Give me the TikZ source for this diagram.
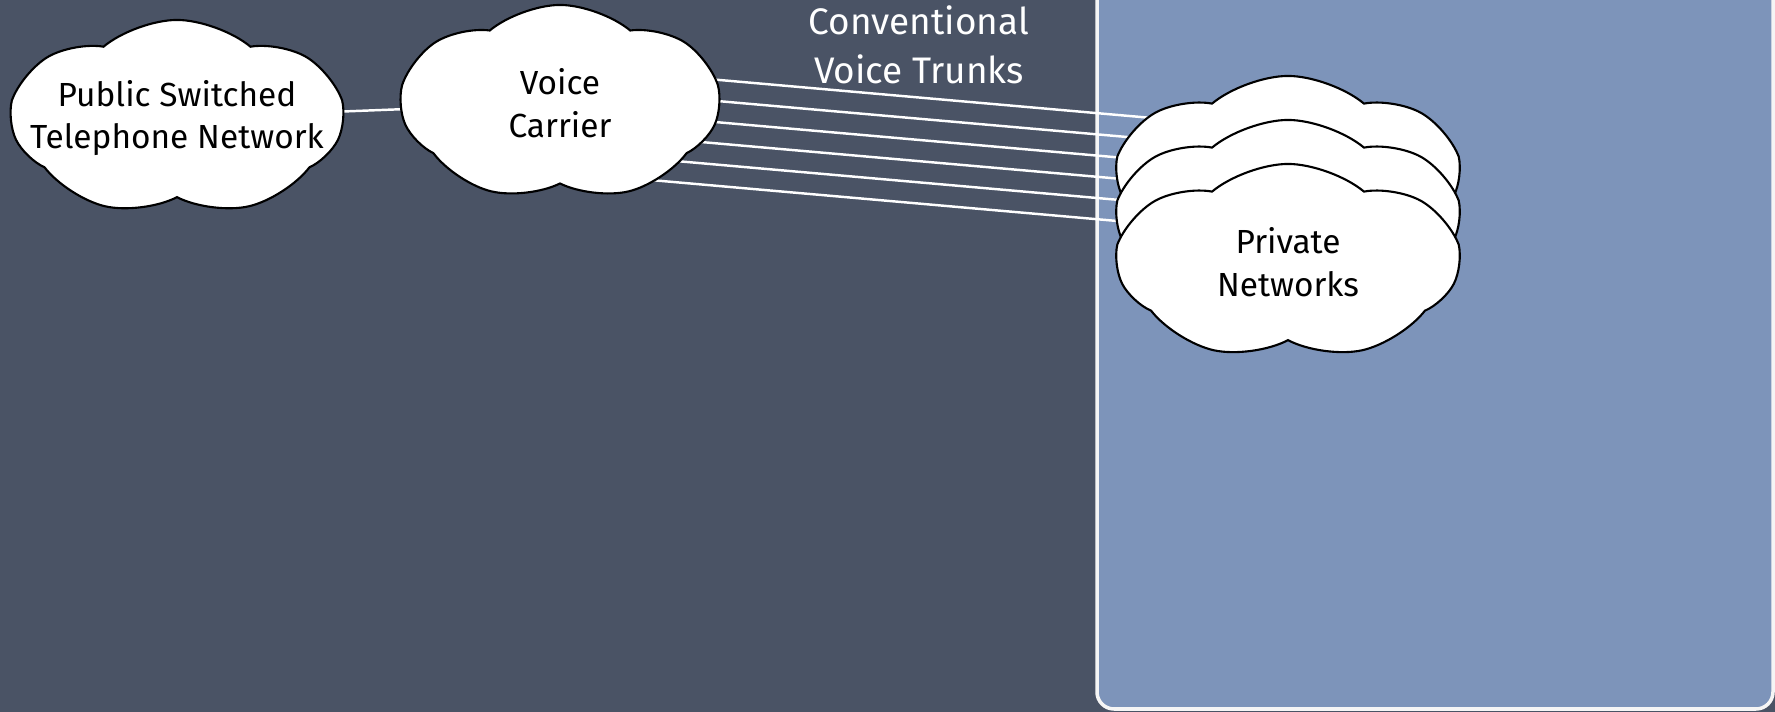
\documentclass[tikz,border=0pt]{standalone}
\usepackage{fontspec}
\setmainfont{Fira Sans}
\usetikzlibrary{shapes.symbols}

\pgfdeclarelayer{board}
\pgfdeclarelayer{wires}
\pgfsetlayers{board,wires,main}

\definecolor{slate}{RGB}{74,83,101}
\definecolor{panelblue}{RGB}{125,148,186}

\tikzset{
	netcloud/.style={cloud, cloud puffs=7, cloud puff arc=80, cloud ignores aspect,
		draw=black, line width=0.6pt, fill=white,
		minimum width=3.3cm, minimum height=1.96cm, inner sep=0pt},
	cloudtext/.style={align=center, text=black, font=\fontsize{9.5}{12.2}\selectfont},
	trunk/.style={draw=white, line width=0.7pt}
}

\begin{document}
\begin{tikzpicture}[x=0.01cm, y=-0.01cm]
		\useasboundingbox (0,0) rectangle (1775,712);
		%% The Board
		\begin{pgfonlayer}{board}
			\fill[slate] (0,0) rectangle (1775,712);
			\filldraw[fill=panelblue, draw=white!92!gray, line width=1pt,
				rounded corners=0.17cm] (1097,-30) rectangle (1773,709);
		\end{pgfonlayer}
		%% The Clouds
		\node[netcloud, label={[cloudtext]center:{Public Switched\\Telephone Network}}]
			(pstn) at (177,118) {};
		\node[netcloud, minimum width=3.17cm, label={[cloudtext]center:{Voice\\Carrier}}]
			(carrier) at (560,103) {};
		\node[netcloud, minimum width=3.4cm] (privC) at (1288,174) {}; % back
		\node[netcloud, minimum width=3.4cm] (privB) at (1288,218) {}; % middle
		\node[netcloud, minimum width=3.4cm, label={[cloudtext]center:{Private\\Networks}}]
			(privA) at (1288,262) {}; % front
		%% Label for the trunks
		\node[align=center, text=white, font=\fontsize{10.5}{14}\selectfont]
			(trunks) at (919,45) {Conventional\\Voice Trunks};
		%% Wires, behind the clouds
		\begin{pgfonlayer}{wires}
			\draw[trunk] (pstn.center) -- (carrier.center);
			\foreach \k in {0,...,5}
				\draw[trunk] ([yshift=0.37cm-\k*0.212cm]carrier.center)
					-- ([yshift=1.32cm-\k*0.212cm]privA.center);
		\end{pgfonlayer}
	\end{tikzpicture}
\end{document}
